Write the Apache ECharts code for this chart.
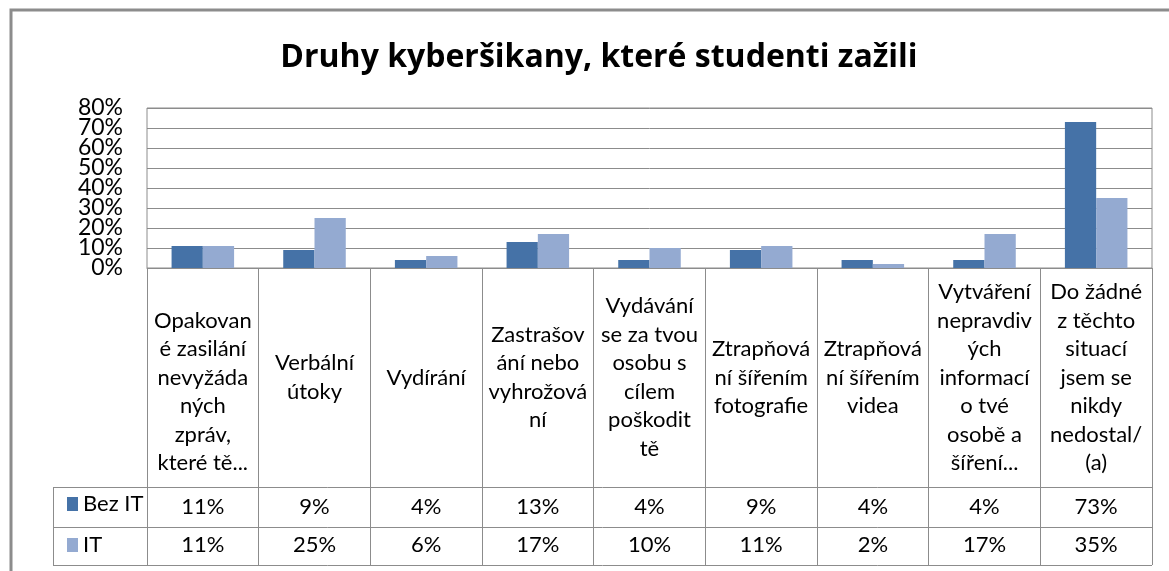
<!DOCTYPE html>
<html>
<head>
<meta charset="utf-8">
<script src="https://cdn.jsdelivr.net/npm/echarts@6/dist/echarts.min.js"></script>
<style>
  html, body { margin: 0; padding: 0; background: #fff; }
  #chart { width: 1169px; height: 571px; }
</style>
</head>
<body>
<div id="chart"></div>
<script>
var titleText = 'Druhy kyberšikany, které studenti zažili';
var seriesNames = ['Bez IT', 'IT'];
// category labels as wrapped in the data table
var categories = [
  '\nOpakovan\né zasilání\nnevyžáda\nných\nzpráv,\nkteré tě...',
  'Verbální\nútoky',
  'Vydírání',
  'Zastrašov\nání nebo\nvyhrožová\nní',
  'Vydávání\nse za tvou\nosobu s\ncílem\npoškodit\ntě',
  'Ztrapňová\nní šířením\nfotografie',
  'Ztrapňová\nní šířením\nvidea',
  'Vytváření\nnepravdiv\ných\ninformací\no tvé\nosobě a\nšíření...',
  'Do žádné\nz těchto\nsituací\njsem se\nnikdy\nnedostal/\n(a)'
];
var bezIT = [11, 9, 4, 13, 4, 9, 4, 4, 73];
var it = [11, 25, 6, 17, 10, 11, 2, 17, 35];
var yTicks = [0, 80, 10];

var font = 'Lato, sans-serif';
var titleFont = '"Open Sans", sans-serif';
var gray = '#8c8c8c';
var colors = ['#4572A7', '#94AAD1'];

var chart = echarts.init(document.getElementById('chart'));

function valueAxis(values, margin) {
  return {
    type: 'category',
    gridIndex: 0,
    position: 'bottom',
    data: categories,
    axisLine: { show: false },
    axisTick: { show: false },
    splitLine: { show: false },
    axisLabel: {
      interval: 0,
      margin: margin,
      verticalAlign: 'middle',
      fontFamily: font,
      fontSize: 22,
      color: '#000',
      formatter: function(v, i) { return values[i] + '%'; }
    }
  };
}

// the tick labels sit closer than their height, so odd and even tens are
// labelled by two overlaid axes to keep echarts from dropping any of them
function percentAxis(step, labelTest, showSplit) {
  return {
    type: 'value',
    gridIndex: 0,
    position: 'left',
    min: yTicks[0],
    max: yTicks[1],
    interval: step,
    axisLine: { show: false },
    axisTick: { show: false },
    splitLine: { show: showSplit, lineStyle: { color: gray, width: 1 } },
    axisLabel: {
      margin: 24,
      hideOverlap: false,
      fontFamily: font,
      fontSize: 23,
      color: '#000',
      formatter: function(v) { return labelTest(v) ? v + '%' : ''; }
    }
  };
}

var option = {
  animation: false,
  color: colors,
  title: {
    text: titleText,
    left: 594,
    top: 37,
    textAlign: 'center',
    textStyle: { fontFamily: titleFont, fontSize: 32, fontWeight: 'bold', color: '#000' }
  },
  legend: {
    orient: 'vertical',
    left: 62,
    top: 488,
    icon: 'rect',
    itemWidth: 11,
    itemHeight: 14,
    itemGap: 19,
    data: seriesNames,
    textStyle: { fontFamily: font, fontSize: 22, lineHeight: 20, color: '#000' }
  },
  grid: {
    left: 147,
    right: 17,
    top: 108,
    height: 160,
    show: true,
    borderColor: gray,
    borderWidth: 1
  },
  xAxis: [
    {
      type: 'category',
      gridIndex: 0,
      position: 'bottom',
      data: categories,
      axisLine: { show: true, lineStyle: { color: gray, width: 1 } },
      axisTick: { show: true, interval: 0, length: 297, lineStyle: { color: gray, width: 1 } },
      axisLabel: {
        interval: 0,
        margin: 109.5,
        verticalAlign: 'middle',
        align: 'center',
        lineHeight: 28.5,
        fontFamily: font,
        fontSize: 22,
        color: '#000'
      }
    },
    valueAxis(bezIT, 239),
    valueAxis(it, 277)
  ],
  yAxis: [
    percentAxis(yTicks[2], function(v) { return v % (yTicks[2] * 2) !== 0; }, true),
    percentAxis(yTicks[2] * 2, function(v) { return true; }, false)
  ],
  series: [
    {
      name: seriesNames[0],
      type: 'bar',
      xAxisIndex: 0,
      yAxisIndex: 0,
      data: bezIT,
      barGap: '0%',
      barCategoryGap: '44%'
    },
    {
      name: seriesNames[1],
      type: 'bar',
      xAxisIndex: 0,
      yAxisIndex: 0,
      data: it,
      barGap: '0%',
      barCategoryGap: '44%'
    }
  ],
  graphic: [
    { type: 'rect', shape: { x: 11, y: 10, width: 1300, height: 700 },
      style: { fill: 'none', stroke: gray, lineWidth: 3 }, silent: true },
    { type: 'line', shape: { x1: 53, y1: 487.5, x2: 1152, y2: 487.5 }, style: { stroke: gray, lineWidth: 1 } },
    { type: 'line', shape: { x1: 53, y1: 527.5, x2: 1152, y2: 527.5 }, style: { stroke: gray, lineWidth: 1 } },
    { type: 'line', shape: { x1: 53, y1: 565.5, x2: 1152, y2: 565.5 }, style: { stroke: gray, lineWidth: 1 } },
    { type: 'line', shape: { x1: 53.5, y1: 487, x2: 53.5, y2: 566 }, style: { stroke: gray, lineWidth: 1 } }
  ]
};

chart.setOption(option);
</script>
</body>
</html>
